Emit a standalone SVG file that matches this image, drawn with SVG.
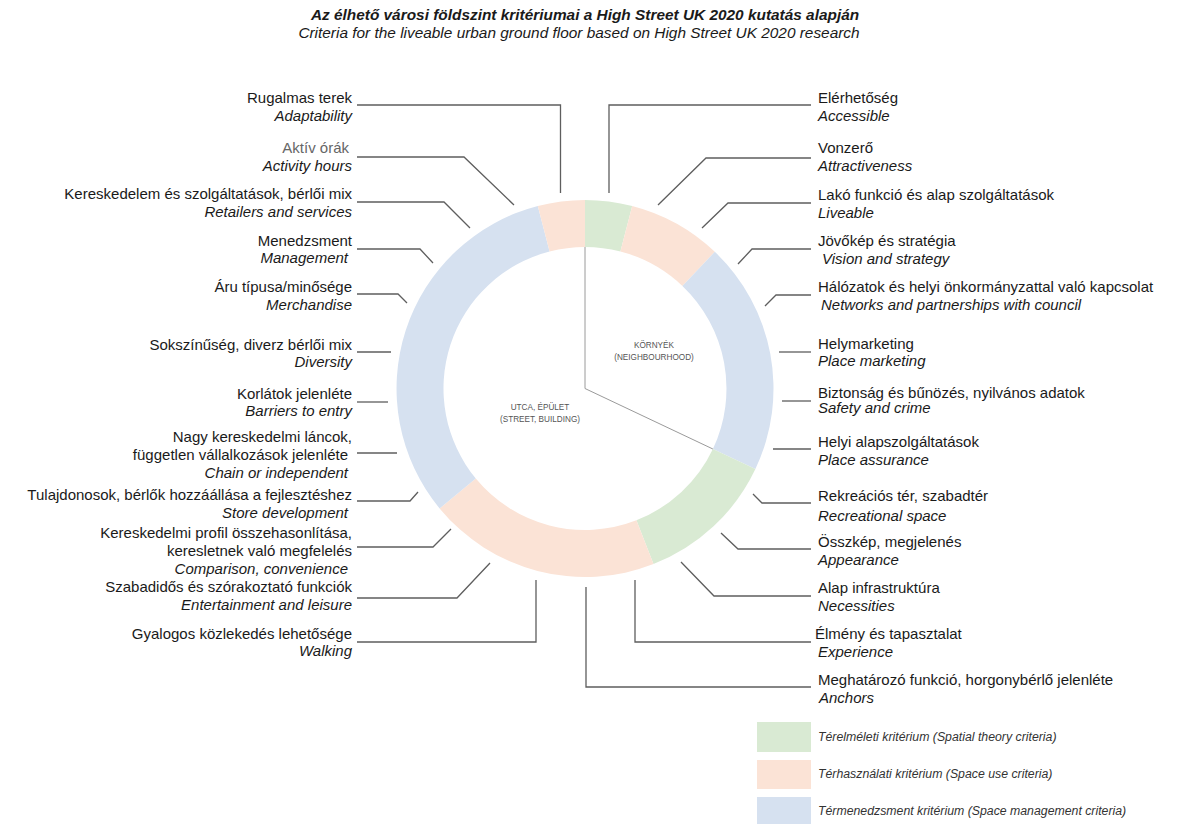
<svg xmlns="http://www.w3.org/2000/svg" width="1178" height="824" viewBox="0 0 1178 824">
<style>
text{font-family:"Liberation Sans",Arial,sans-serif;fill:#1a1a1a}
.hu{font-size:15px}
.en{font-size:15px;font-style:italic}
.l{text-anchor:end}
.title{font-size:15.4px;font-weight:bold;font-style:italic;text-anchor:middle}
.sub{font-size:15.4px;font-style:italic;text-anchor:middle}
.ctr{font-size:8.2px;fill:#555;text-anchor:middle}
.leg{font-size:12.3px;font-style:italic;fill:#333}
.g{fill:#d9ead3}
.o{fill:#fbe3d6}
.b{fill:#d6e1f0}
.con path{fill:none;stroke:#5e5e5e;stroke-width:1.3}
</style>
<rect width="1178" height="824" fill="#fff"/>
<g id="title">
<text class="title" x="585" y="20">Az élhető városi földszint kritériumai a High Street UK 2020 kutatás alapján</text>
<text class="sub" x="579" y="38">Criteria for the liveable urban ground floor based on High Street UK 2020 research</text>
</g>
<g id="ring">
<path class="g" d="M585,200 A188.5,188.5 0 0 1 632.2,206 L620.4,251.5 A141.5,141.5 0 0 0 585,247 Z"/>
<path class="o" d="M632.2,206 A188.5,188.5 0 0 1 714.8,251.8 L682.4,285.9 A141.5,141.5 0 0 0 620.4,251.5 Z"/>
<path class="b" d="M714.8,251.8 A188.5,188.5 0 0 1 755.4,469.1 L712.9,449 A141.5,141.5 0 0 0 682.4,285.9 Z"/>
<path class="g" d="M755.4,469.1 A188.5,188.5 0 0 1 653.5,564.1 L636.4,520.3 A141.5,141.5 0 0 0 712.9,449 Z"/>
<path class="o" d="M653.5,564.1 A188.5,188.5 0 0 1 439.6,508.4 L475.8,478.5 A141.5,141.5 0 0 0 636.4,520.3 Z"/>
<path class="b" d="M439.6,508.4 A188.5,188.5 0 0 1 537.8,206 L549.6,251.5 A141.5,141.5 0 0 0 475.8,478.5 Z"/>
<path class="o" d="M537.8,206 A188.5,188.5 0 0 1 585,200 L585,247 A141.5,141.5 0 0 0 549.6,251.5 Z"/>
<path d="M585,247 L585,388.5 L712.9,449" fill="none" stroke="#9a9a9a" stroke-width="1"/>
</g>
<g id="center-labels">
<text class="ctr" x="654" y="348">KÖRNYÉK</text>
<text class="ctr" x="654" y="360">(NEIGHBOURHOOD)</text>
<text class="ctr" x="540" y="410">UTCA, ÉPÜLET</text>
<text class="ctr" x="540" y="422">(STREET, BUILDING)</text>
</g>
<g id="connectors" class="con">
<path d="M357,105 H560.5 V193"/>
<path d="M357,157 H464 L514,205"/>
<path d="M357,202 H444 L470,228"/>
<path d="M357,249 H420 L433,263"/>
<path d="M357,294 H398 L407,303"/>
<path d="M357,352 H391"/>
<path d="M357,402 H388"/>
<path d="M357,453 H397"/>
<path d="M357,501 H410 L418,492"/>
<path d="M357,547 H433 L451,529"/>
<path d="M357,598 H457 L490,563"/>
<path d="M357,642 H536 V580"/>
<path d="M811,105 H609 V193"/>
<path d="M811,158 H706 L658,205"/>
<path d="M811,203 H728 L702,228"/>
<path d="M811,249 H752 L738,264"/>
<path d="M811,295 H776 L765,306"/>
<path d="M811,352 H779"/>
<path d="M811,401 H782"/>
<path d="M811,449 H773"/>
<path d="M811,503 H762 L753,494"/>
<path d="M811,549 H738 L721,533"/>
<path d="M811,596 H714 L681,562"/>
<path d="M811,642 H635 V580"/>
<path d="M811,687 H586 V587"/>
</g>
<g id="n-adaptability"><text class="hu l" x="352" y="103">Rugalmas terek</text><text class="en l" x="352" y="121">Adaptability</text></g>
<g id="n-activity"><text class="hu l" x="349" y="153" style="fill:#666">Aktív órák</text><text class="en l" x="352" y="171">Activity hours</text></g>
<g id="n-retailers"><text class="hu l" x="352" y="199">Kereskedelem és szolgáltatások, bérlői mix</text><text class="en l" x="352" y="217">Retailers and services</text></g>
<g id="n-management"><text class="hu l" x="352" y="246">Menedzsment</text><text class="en l" x="348" y="263">Management</text></g>
<g id="n-merchandise"><text class="hu l" x="352" y="292">Áru típusa/minősége</text><text class="en l" x="352" y="310">Merchandise</text></g>
<g id="n-diversity"><text class="hu l" x="352" y="350">Sokszínűség, diverz bérlői mix</text><text class="en l" x="352" y="367">Diversity</text></g>
<g id="n-barriers"><text class="hu l" x="352" y="399">Korlátok jelenléte</text><text class="en l" x="352" y="416">Barriers to entry</text></g>
<g id="n-chain"><text class="hu l" x="352" y="442">Nagy kereskedelmi láncok,</text><text class="hu l" x="348" y="460">független vállalkozások jelenléte</text><text class="en l" x="348" y="478">Chain or independent</text></g>
<g id="n-store"><text class="hu l" x="352" y="500">Tulajdonosok, bérlők hozzáállása a fejlesztéshez</text><text class="en l" x="348" y="518">Store development</text></g>
<g id="n-comparison"><text class="hu l" x="352" y="538">Kereskedelmi profil összehasonlítása,</text><text class="hu l" x="352" y="556">keresletnek való megfelelés</text><text class="en l" x="348" y="574">Comparison, convenience</text></g>
<g id="n-entertainment"><text class="hu l" x="352" y="592">Szabadidős és szórakoztató funkciók</text><text class="en l" x="352" y="610">Entertainment and leisure</text></g>
<g id="n-walking"><text class="hu l" x="352" y="639">Gyalogos közlekedés lehetősége</text><text class="en l" x="352" y="656">Walking</text></g>
<g id="n-accessible"><text class="hu" x="818" y="103">Elérhetőség</text><text class="en" x="818" y="121">Accessible</text></g>
<g id="n-attractiveness"><text class="hu" x="818" y="153">Vonzerő</text><text class="en" x="818" y="171">Attractiveness</text></g>
<g id="n-liveable"><text class="hu" x="818" y="200">Lakó funkció és alap szolgáltatások</text><text class="en" x="818" y="218">Liveable</text></g>
<g id="n-vision"><text class="hu" x="818" y="246">Jövőkép és stratégia</text><text class="en" x="822" y="264">Vision and strategy</text></g>
<g id="n-networks"><text class="hu" x="818" y="292">Hálózatok és helyi önkormányzattal való kapcsolat</text><text class="en" x="821" y="310">Networks and partnerships with council</text></g>
<g id="n-marketing"><text class="hu" x="818" y="349">Helymarketing</text><text class="en" x="818" y="366">Place marketing</text></g>
<g id="n-safety"><text class="hu" x="818" y="398">Biztonság és bűnözés, nyilvános adatok</text><text class="en" x="818" y="413">Safety and crime</text></g>
<g id="n-assurance"><text class="hu" x="818" y="447">Helyi alapszolgáltatások</text><text class="en" x="818" y="465">Place assurance</text></g>
<g id="n-recreational"><text class="hu" x="818" y="501">Rekreációs tér, szabadtér</text><text class="en" x="818" y="521">Recreational space</text></g>
<g id="n-appearance"><text class="hu" x="818" y="547">Összkép, megjelenés</text><text class="en" x="818" y="565">Appearance</text></g>
<g id="n-necessities"><text class="hu" x="818" y="593">Alap infrastruktúra</text><text class="en" x="818" y="611">Necessities</text></g>
<g id="n-experience"><text class="hu" x="815" y="639">Élmény és tapasztalat</text><text class="en" x="818" y="657">Experience</text></g>
<g id="n-anchors"><text class="hu" x="818" y="685">Meghatározó funkció, horgonybérlő jelenléte</text><text class="en" x="819" y="703">Anchors</text></g>
<g id="legend">
<rect class="g" x="757" y="722" width="54" height="30"/>
<rect class="o" x="757" y="760" width="54" height="29"/>
<rect class="b" x="757" y="797" width="54" height="27"/>
<text class="leg" x="818" y="741">Térelméleti kritérium (Spatial theory criteria)</text>
<text class="leg" x="818" y="778">Térhasználati kritérium (Space use criteria)</text>
<text class="leg" x="818" y="815">Térmenedzsment kritérium (Space management criteria)</text>
</g>
</svg>
